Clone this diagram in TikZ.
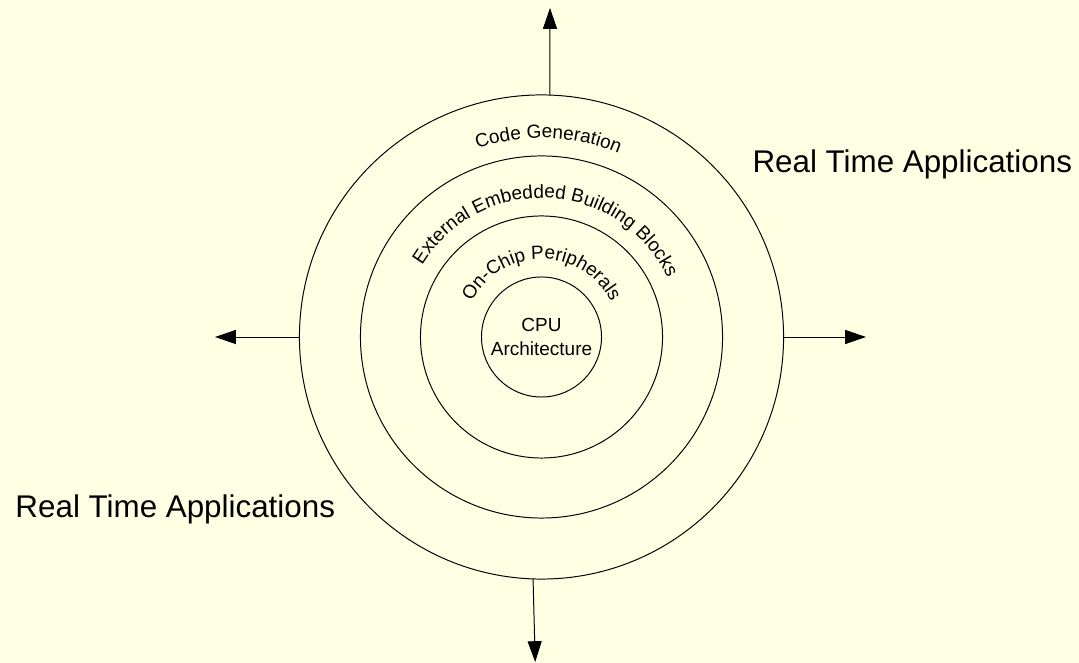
\documentclass[tikz,border=0pt]{standalone}
\usepackage{fontspec}
\setmainfont{Liberation Sans}
\usetikzlibrary{
  arrows.meta,
  decorations.text
}
\usepackage{xcolor}
\definecolor{paleYellow}{RGB}{255,255,228}
\newcommand{\arcFont}{\fontsize{13.5}{16}\selectfont}
\newcommand{\cpuFont}{\fontsize{13.5}{17}\selectfont}
\newcommand{\ringLabel}[3]{\path[decorate, decoration={text along path,%
  text align=center, text={|\arcFont|#3}}]%
  ([shift={(#1+85:#2)}]ctr) arc[start angle=#1+85, end angle=#1-85, radius=#2];}
\tikzset{
  ring/.style={
    circle,
    draw,
    line width=0.7pt,
    inner sep=0pt,
    outer sep=0pt
  }
}
\tikzset{
  bigLabel/.style={
    inner sep=0pt,
    font=\fontsize{22.3}{26}\selectfont,
    anchor=base west
  }
}

\begin{document}
\begin{tikzpicture}[x=0.025cm, y=0.025cm, line width=0.7pt,
    >={Triangle[length=0.52cm, width=0.35cm]}]
    \useasboundingbox[fill=paleYellow] (0,0) rectangle (1079,663);
    \coordinate (ctr) at (541.5,326);

    \node[ring, minimum size=12.1cm] (codegen) at (ctr) {};
    \node[ring, minimum size=9.05cm] (external) at (ctr) {};
    \node[ring, minimum size=6.05cm] (onchip) at (ctr) {};
    \node[ring, minimum size=3cm, align=center, font=\cpuFont] (cpu) at (ctr)
      {CPU\\Architecture};

    \coordinate (topTip) at (550,655);
    \coordinate (bottomTip) at (535.2,1);
    \coordinate (leftTip) at (215,326);
    \coordinate (rightTip) at (866,326);
    \foreach \ang/\tip in {88/topTip, 268.5/bottomTip, 180/leftTip, 0/rightTip}
      \draw[->] (codegen.\ang) -- (\tip);

    \ringLabel{88}{199}{Code Generation}
    \ringLabel{87}{139}{External Embedded Building Blocks}
    \ringLabel{90}{78}{On-Chip Peripherals}

    \node[bigLabel] (rtaRight) at (752,490) {Real Time Applications};
    \node[bigLabel] (rtaLeft) at (15,145) {Real Time Applications};
  \end{tikzpicture}
\end{document}
